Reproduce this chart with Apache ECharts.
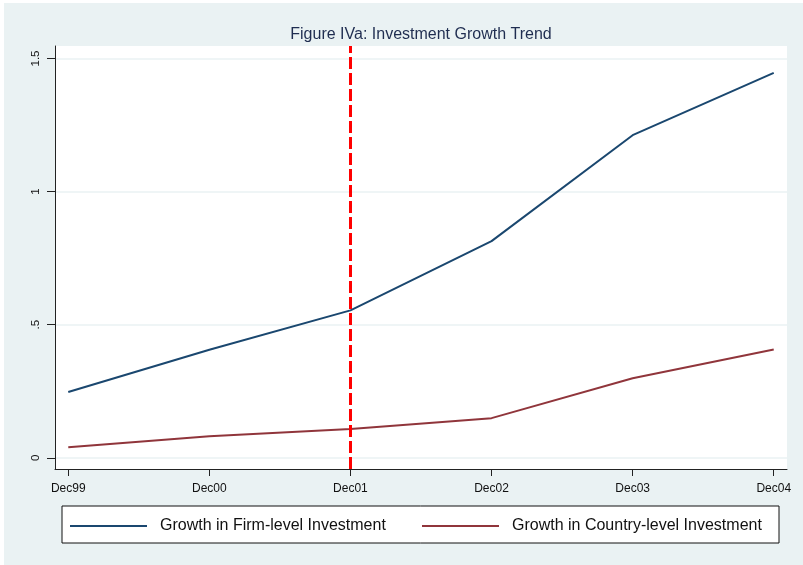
<!DOCTYPE html>
<html>
<head>
<meta charset="utf-8">
<script src="https://cdn.jsdelivr.net/npm/echarts@6/dist/echarts.min.js"></script>
<style>
html, body { margin: 0; padding: 0; background: #ffffff; }
#chart { width: 803px; height: 565px; }
</style>
</head>
<body>
<div id="chart"></div>
<script>
// Period labels on the horizontal axis
const categories = ['Dec99', 'Dec00', 'Dec01', 'Dec02', 'Dec03', 'Dec04'];
// Cumulative investment growth
const firmGrowth = [0.247, 0.406, 0.554, 0.814, 1.212, 1.446];
const countryGrowth = [0.040, 0.081, 0.108, 0.149, 0.299, 0.407];
// Vertical axis ticks and their labels
const yTickValues = [0, 0.5, 1, 1.5];
const yTickLabels = ['0', '.5', '1', '1.5'];
// Period marked by the vertical reference line
const breakPeriod = 'Dec01';

const seriesNames = ['Growth in Firm-level Investment', 'Growth in Country-level Investment'];
const xTickValues = categories.map((_, i) => i);
const toPoints = arr => arr.map((v, i) => [i, v]);

const FONT = '"Liberation Sans", Arial, sans-serif';
const BG = '#eaf2f3';

const chart = echarts.init(document.getElementById('chart'), null, { renderer: 'canvas' });

// Legend entries: a plain line sample followed by the series name
const legendEntry = (name, left) => ({
  data: [name],
  left: left, top: 518, padding: 0,
  icon: 'rect',
  itemWidth: 77, itemHeight: 2,
  selectedMode: false,
  textStyle: { fontFamily: FONT, fontSize: 16, color: '#111111', padding: [0, 0, 0, 8] }
});

chart.setOption({
  backgroundColor: '#ffffff',
  animation: false,
  textStyle: { fontFamily: FONT },
  title: {
    text: 'Figure IVa: Investment Growth Trend',
    left: 421,
    top: 27,
    textAlign: 'center',
    padding: 0,
    textStyle: { fontFamily: FONT, fontSize: 16, fontWeight: 'normal', color: '#1f2d50' }
  },
  graphic: [
    {
      type: 'rect', z: -10, silent: true,
      shape: { x: 4, y: 3, width: 799, height: 562 },
      style: { fill: BG }
    },
    {
      type: 'rect', z: -5, silent: true,
      shape: { x: 62, y: 506, width: 717, height: 37 },
      style: { fill: '#ffffff', stroke: '#111111', lineWidth: 1 }
    }
  ],
  grid: {
    left: 55, top: 46, width: 732, height: 423,
    show: true, backgroundColor: '#ffffff', borderWidth: 0,
    containLabel: false
  },
  legend: [legendEntry(seriesNames[0], 70), legendEntry(seriesNames[1], 422)],
  xAxis: {
    type: 'value',
    min: -0.094,
    max: 5.094,
    axisLine: { show: true, onZero: false, lineStyle: { color: '#222222', width: 1 } },
    axisTick: { show: true, customValues: xTickValues, length: 7, lineStyle: { color: '#222222' } },
    axisLabel: {
      customValues: xTickValues,
      formatter: v => categories[Math.round(v)],
      fontFamily: FONT, fontSize: 12, color: '#111111', margin: 14
    },
    splitLine: { show: false }
  },
  yAxis: {
    type: 'value',
    min: -0.042,
    max: 1.547,
    axisLine: { show: true, onZero: false, lineStyle: { color: '#222222', width: 1 } },
    axisTick: { show: true, customValues: yTickValues, length: 8, lineStyle: { color: '#222222' } },
    axisLabel: {
      customValues: yTickValues,
      formatter: v => yTickLabels[yTickValues.indexOf(v)],
      rotate: 90,
      fontFamily: FONT, fontSize: 11.5, color: '#111111', margin: 13
    },
    splitLine: { show: true, lineStyle: { color: BG, width: 1.5 } }
  },
  series: [
    {
      name: seriesNames[0],
      type: 'line',
      data: toPoints(firmGrowth),
      symbol: 'none',
      color: '#1a476f',
      lineStyle: { color: '#1a476f', width: 2 }
    },
    {
      name: seriesNames[1],
      type: 'line',
      data: toPoints(countryGrowth),
      symbol: 'none',
      color: '#90353b',
      lineStyle: { color: '#90353b', width: 2 },
      markLine: {
        silent: true,
        symbol: 'none',
        label: { show: false },
        emphasis: { disabled: true },
        lineStyle: { color: '#ff0000', width: 3, type: [12, 4], opacity: 1 },
        data: [{ xAxis: categories.indexOf(breakPeriod) }]
      }
    }
  ]
});
</script>
</body>
</html>
